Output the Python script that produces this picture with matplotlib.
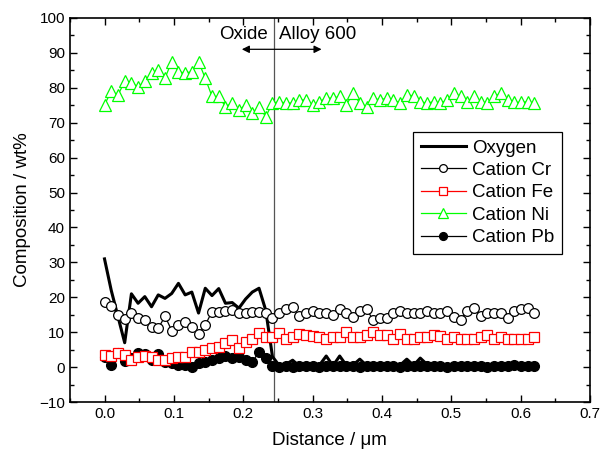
import matplotlib
matplotlib.use("Agg")
import matplotlib.pyplot as plt
from matplotlib.ticker import MultipleLocator

plt.rcParams['font.family'] = ['Liberation Sans', 'DejaVu Sans']

distance = [0.0, 0.0097, 0.0194, 0.0291, 0.0388, 0.0484, 0.0581, 0.0678, 0.0775, 0.0872,
            0.0969, 0.1066, 0.1163, 0.1259, 0.1356, 0.1453, 0.1550, 0.1647, 0.1744, 0.1841,
            0.1938, 0.2034, 0.2131, 0.2228, 0.2325, 0.2422, 0.2519, 0.2616, 0.2713, 0.2809,
            0.2906, 0.3003, 0.3100, 0.3197, 0.3294, 0.3391, 0.3488, 0.3584, 0.3681, 0.3778,
            0.3875, 0.3972, 0.4069, 0.4166, 0.4263, 0.4359, 0.4456, 0.4553, 0.4650, 0.4747,
            0.4844, 0.4941, 0.5038, 0.5134, 0.5231, 0.5328, 0.5425, 0.5522, 0.5619, 0.5716,
            0.5813, 0.5909, 0.6006, 0.6103, 0.6200]

oxygen = [31.0, 22.0, 14.5, 7.0, 21.0, 18.3, 20.2, 17.3, 20.7, 19.7,
          21.1, 24.0, 20.7, 21.5, 15.5, 22.6, 20.5, 22.5, 18.3, 18.5,
          16.9, 19.5, 21.5, 22.6, 16.3, 3.0, 0.5, 0.8, 2.0, 0.3,
          0.5, 0.3, 0.6, 3.2, 0.4, 3.2, 0.5, 0.6, 2.3, 0.5,
          0.3, 0.4, 0.5, 0.3, 0.6, 2.3, 0.5, 2.6, 0.8, 0.3,
          0.5, 0.4, 0.3, 0.5, 0.4, 0.3, 0.5, 0.4, 0.6, 0.3,
          0.5, 1.5, 0.6, 0.4, 0.3]

cation_cr = [18.7, 17.5, 14.9, 13.7, 15.4, 14.0, 13.5, 11.6, 11.1, 14.6,
             10.5, 12.1, 13.0, 11.6, 9.5, 12.1, 15.9, 15.9, 16.0, 16.4,
             15.4, 15.4, 15.9, 15.9, 15.4, 14.0, 15.6, 16.6, 17.1, 14.6,
             15.6, 16.2, 15.6, 15.4, 14.9, 16.6, 15.6, 14.4, 16.1, 16.6,
             13.5, 14.2, 14.2, 15.6, 16.2, 15.4, 15.4, 15.6, 16.2, 15.6,
             15.6, 16.2, 14.4, 13.5, 16.2, 16.9, 14.6, 15.6, 15.6, 15.4,
             14.2, 16.1, 16.6, 16.9, 15.6]

cation_fe = [3.5, 3.2, 4.0, 3.5, 2.0, 2.8, 3.2, 2.8, 2.0, 2.0,
             2.5, 2.8, 2.8, 4.4, 4.4, 4.9, 5.4, 5.9, 6.8, 7.8,
             5.4, 7.3, 8.2, 9.7, 8.7, 8.7, 9.7, 8.2, 8.7, 9.5,
             9.2, 8.9, 8.7, 8.0, 8.7, 8.7, 10.0, 8.7, 8.7, 9.2,
             10.0, 9.2, 9.2, 8.2, 9.5, 8.2, 8.2, 8.7, 8.7, 9.2,
             8.9, 8.2, 8.7, 8.2, 8.2, 8.2, 8.7, 9.2, 8.2, 8.7,
             8.0, 8.2, 8.2, 8.2, 8.7]

cation_ni = [75.1, 79.0, 77.9, 81.8, 81.3, 80.3, 81.8, 84.2, 85.1, 82.7,
             87.5, 84.6, 84.2, 84.6, 87.5, 82.7, 77.5, 77.5, 74.6, 75.6,
             73.6, 75.1, 72.8, 74.6, 71.7, 75.6, 76.0, 75.6, 75.6, 76.5,
             76.5, 75.1, 76.0, 77.0, 77.0, 77.5, 75.1, 78.4, 75.6, 74.6,
             77.0, 76.5, 77.0, 76.5, 75.6, 77.9, 77.7, 76.0, 75.6, 76.0,
             75.6, 76.5, 78.4, 77.5, 76.0, 77.5, 76.0, 75.6, 77.5, 78.4,
             76.5, 75.8, 75.8, 76.0, 75.6]

cation_pb = [3.0, 0.6, 4.2, 1.8, 2.5, 4.0, 3.9, 2.0, 3.8, 1.5,
             1.1, 0.6, 0.6, 0.1, 1.1, 1.5, 2.0, 2.5, 3.2, 2.5,
             2.8, 2.0, 1.5, 4.4, 2.5, 0.3, 0.1, 0.3, 0.1, 0.4,
             0.2, 0.3, 0.1, 0.3, 0.2, 0.4, 0.2, 0.3, 0.1, 0.3,
             0.2, 0.4, 0.2, 0.3, 0.1, 0.3, 0.2, 0.4, 0.2, 0.3,
             0.2, 0.1, 0.3, 0.2, 0.4, 0.2, 0.3, 0.1, 0.3, 0.2,
             0.4, 0.6, 0.3, 0.2, 0.3]

interface_x = 0.245

fig = plt.figure(figsize=(6.02, 4.58), dpi=100)
ax = fig.add_axes([0.116, 0.122, 0.864, 0.839])

ax.plot(distance, oxygen, color='black', lw=2.2, label='Oxygen', zorder=3)
ax.plot(distance, cation_cr, color='black', lw=0.9, marker='o', ms=7,
        mfc='white', mec='black', mew=0.9, label='Cation Cr', zorder=4)
ax.plot(distance, cation_pb, color='black', lw=0.9, marker='o', ms=7,
        mfc='black', mec='black', label='Cation Pb', zorder=4.5)
ax.plot(distance, cation_fe, color='red', lw=0.9, marker='s', ms=7,
        mfc='white', mec='red', mew=0.9, label='Cation Fe', zorder=5)
ax.plot(distance, cation_ni, color='#00ff00', lw=0.9, marker='^', ms=8.5,
        mfc='white', mec='#00ff00', mew=0.9, label='Cation Ni', zorder=5)

ax.axvline(interface_x, color='#555555', lw=0.9, zorder=2)

ax.annotate('', xy=(0.198, 91.0), xytext=(0.313, 91.0),
            arrowprops=dict(arrowstyle='<|-|>', color='black', lw=0.9,
                            mutation_scale=11, shrinkA=0, shrinkB=0))
ax.text(0.201, 95.2, 'Oxide', ha='center', va='center', fontsize=13.5)
ax.text(0.251, 95.2, 'Alloy 600', ha='left', va='center', fontsize=13.5)

ax.set_xlim(-0.05, 0.7)
ax.set_ylim(-10, 100)
ax.xaxis.set_major_locator(MultipleLocator(0.1))
ax.xaxis.set_minor_locator(MultipleLocator(0.05))
ax.yaxis.set_major_locator(MultipleLocator(10))
ax.yaxis.set_minor_locator(MultipleLocator(5))
ax.xaxis.set_major_formatter(matplotlib.ticker.FormatStrFormatter('%.1f'))
ax.tick_params(which='both', direction='in', top=True, right=True,
               labelsize=11, width=1.0)
ax.tick_params(which='major', length=5)
ax.tick_params(which='minor', length=3)
for s in ax.spines.values():
    s.set_linewidth(1.2)

ax.set_xlabel('Distance / \u03bcm', fontsize=13.5, labelpad=8)
ax.set_ylabel('Composition / wt%', fontsize=13.5, labelpad=6)

handles, labels = ax.get_legend_handles_labels()
order = ['Oxygen', 'Cation Cr', 'Cation Fe', 'Cation Ni', 'Cation Pb']
hmap = dict(zip(labels, handles))
leg = ax.legend([hmap[k] for k in order], order, loc='upper left',
                bbox_to_anchor=(0.66, 0.703), borderaxespad=0,
                fontsize=13.5, fancybox=False, edgecolor='black',
                framealpha=1, handlelength=2.4, handletextpad=0.35,
                labelspacing=0.28, borderpad=0.4, markerscale=0.8)
leg.get_frame().set_linewidth(0.9)

fig.savefig('out.png', dpi=100)
